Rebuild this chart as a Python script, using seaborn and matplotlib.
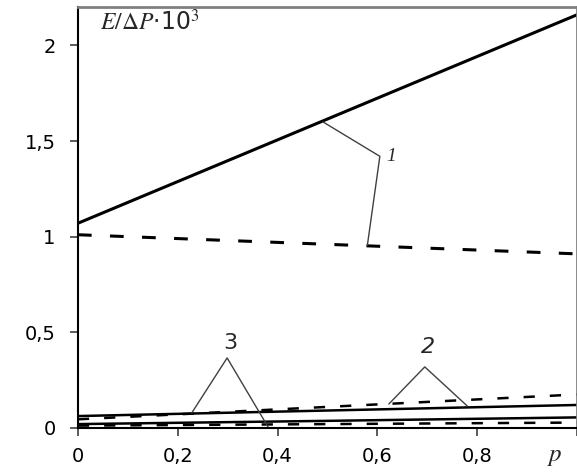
import pandas as pd
import matplotlib.pyplot as plt
import seaborn as sns

p = [0.0, 0.5, 1.0]
e1_solid = [1.07, 1.615, 2.16]
e1_dash = [1.01, 0.96, 0.91]
e2_solid = [0.062, 0.091, 0.12]
e2_dash = [0.045, 0.11, 0.175]
e3_solid = [0.02, 0.037, 0.055]
e3_dash = [0.012, 0.02, 0.028]

x_ticks = [0, 0.2, 0.4, 0.6, 0.8]
x_labels = ["0", "0,2", "0,4", "0,6", "0,8"]
y_ticks = [0, 0.5, 1, 1.5, 2]
y_labels = ["0", "0,5", "1", "1,5", "2"]

sns.set_style("ticks")
plt.rcParams["font.family"] = ["DejaVu Sans"]
plt.rcParams["mathtext.fontset"] = "stix"

fig = plt.figure(figsize=(5.77, 4.76), dpi=100)
ax = fig.add_axes([0.135, 0.101, 0.865, 0.884])

series = [
    (e1_solid, "-", 2.2),
    (e1_dash, "--", 2.2),
    (e2_solid, "-", 1.8),
    (e2_dash, "--", 1.8),
    (e3_solid, "-", 1.8),
    (e3_dash, "--", 1.8),
]
for vals, ls, lw in series:
    df = pd.DataFrame({"p": p, "E": vals})
    sns.lineplot(data=df, x="p", y="E", ax=ax, color="black", linewidth=lw)
    if ls == "--":
        ax.lines[-1].set_dashes((4.5, 6.0))

# выноски
lead = dict(color="#404040", linewidth=1.0)
ax.plot([0.491, 0.605, 0.580], [1.60, 1.42, 0.955], **lead)
ax.plot([0.228, 0.299, 0.381], [0.078, 0.366, 0.005], **lead)
ax.plot([0.623, 0.695, 0.780], [0.125, 0.319, 0.115], **lead)

ax.text(0.627, 1.42, "1", fontsize=14, family="Liberation Serif", style="italic",
        ha="center", va="center")
ax.text(0.305, 0.444, "3", fontsize=16, ha="center", va="center")
ax.text(0.701, 0.423, "2", fontsize=16, style="italic", ha="center", va="center")
ax.text(0.045, 2.12, r"$E/\Delta P$·10$^3$", fontsize=17, ha="left", va="center")

ax.set_xlim(0, 1)
ax.set_ylim(0, 2.2)
ax.set_xticks(x_ticks + [1.0])
ax.set_xticklabels(x_labels + [""])
ax.set_yticks(y_ticks)
ax.set_yticklabels(y_labels)
ax.tick_params(axis="both", labelsize=14, length=6, width=1.2, color="#404040",
               labelcolor="black")
ax.tick_params(axis="x", pad=8)
ax.tick_params(axis="y", pad=10)
ax.set_xlabel("")
ax.set_ylabel("")
ax.text(0.955, -0.038, r"$p$", transform=ax.transAxes, fontsize=18,
        ha="center", va="top")

for side in ["left", "bottom"]:
    ax.spines[side].set_color("black")
    ax.spines[side].set_linewidth(1.5)
for side in ["top", "right"]:
    ax.spines[side].set_visible(True)
    ax.spines[side].set_color("#808080")
    ax.spines[side].set_linewidth(2.0)

fig.savefig("out.png", dpi=100)
